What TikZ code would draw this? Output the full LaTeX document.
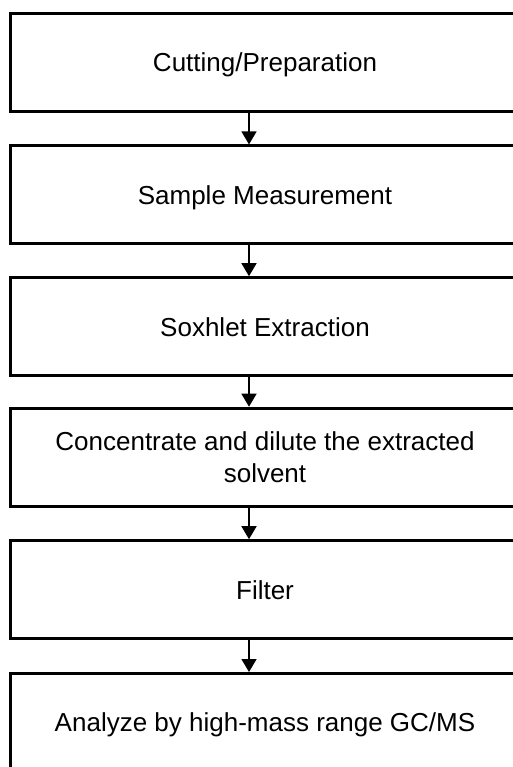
\documentclass[tikz,border=0pt]{standalone}
\usepackage{fontspec}
\setmainfont{Liberation Sans}
\usetikzlibrary{arrows.meta}
\begin{document}
\begin{tikzpicture}[x=1pt,y=-1pt,
  stepbox/.style={draw,line width=3pt,minimum width=509pt,minimum height=98pt,
    inner sep=0pt,align=center,font=\fontsize{26}{32}\selectfont},
  oneline/.style={text height=18.6pt,text depth=0pt},
  arr/.style={line width=1.5pt,-{Triangle[width=15pt,length=13pt]}}]
\useasboundingbox (0,0) rectangle (513,767);
\clip (0,0) rectangle (513,767);
\node[stepbox,oneline] (b1) at (265,62.5) {Cutting/Preparation};
\node[stepbox,oneline] (b2) at (265,194.9) {Sample Measurement};
\node[stepbox,oneline] (b3) at (265,326.7) {Soxhlet Extraction};
\node[stepbox] (b4) at (265,457.2) {Concentrate and dilute the extracted\\solvent};
\node[stepbox,oneline] (b5) at (265,589.7) {Filter};
\node[stepbox,oneline] (b6) at (265,722.5) {Analyze by high-mass range GC/MS};
\coordinate (ax) at (249,0);
\draw[arr] (b1.south -| ax) -- (b2.north -| ax);
\draw[arr] (b2.south -| ax) -- (b3.north -| ax);
\draw[arr] (b3.south -| ax) -- (b4.north -| ax);
\draw[arr] (b4.south -| ax) -- (b5.north -| ax);
\draw[arr] (b5.south -| ax) -- (b6.north -| ax);
\end{tikzpicture}
\end{document}
